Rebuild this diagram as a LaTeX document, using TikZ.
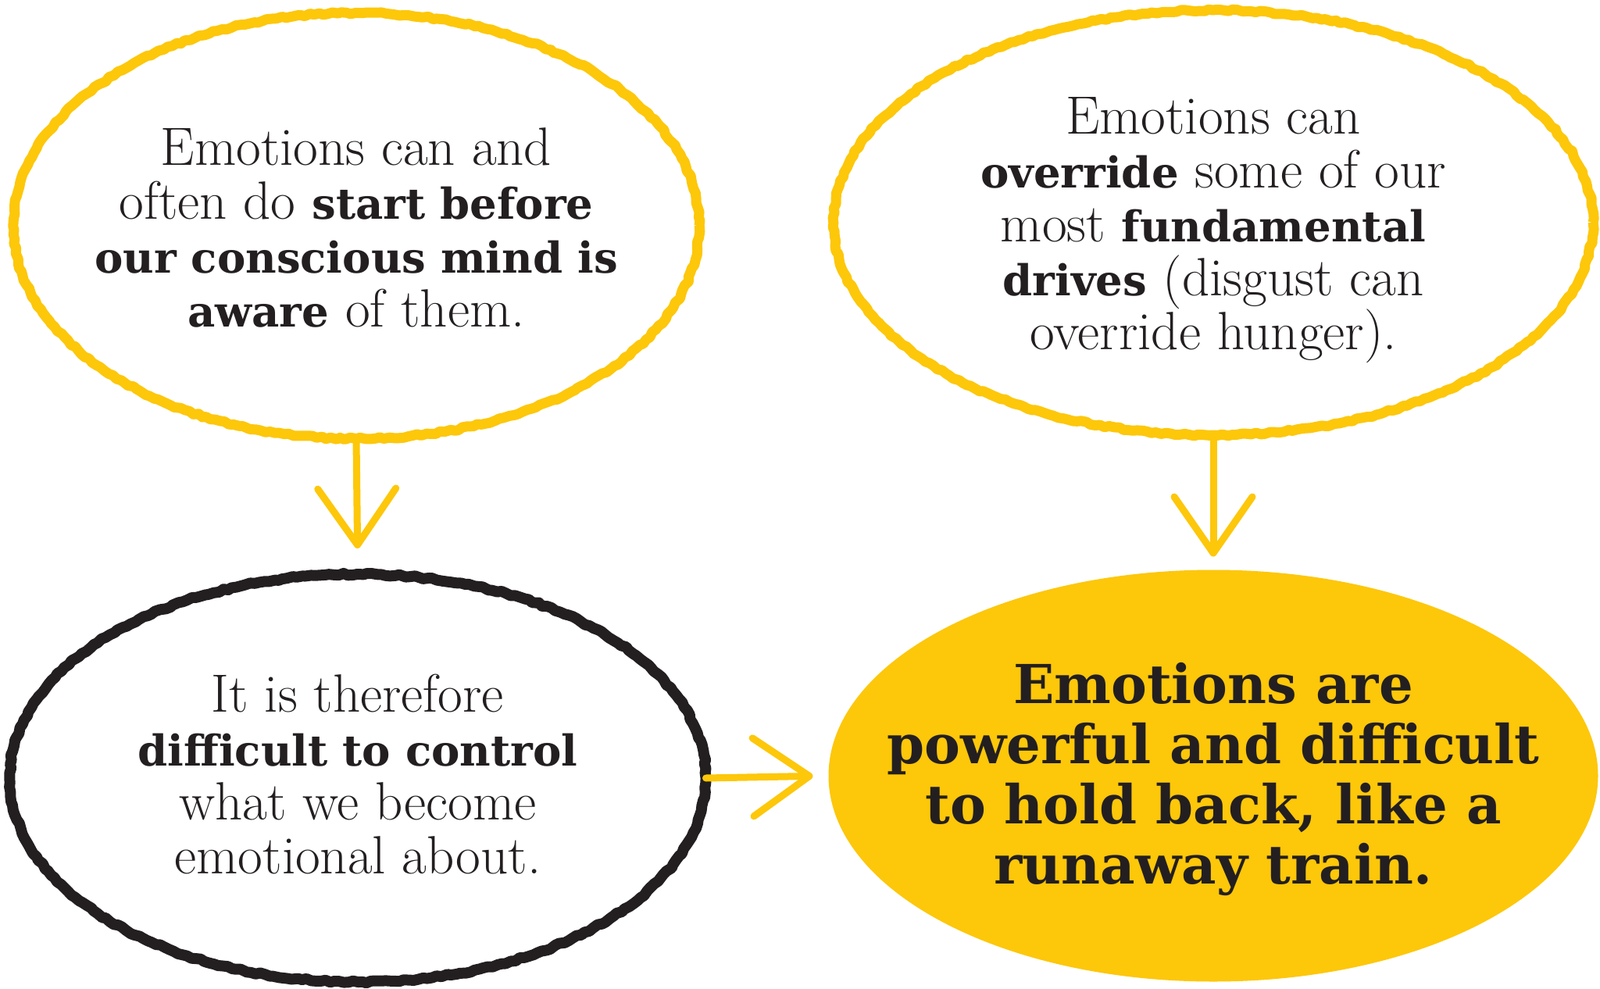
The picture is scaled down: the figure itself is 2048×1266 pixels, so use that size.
\documentclass[tikz,border=0pt]{standalone}
\usepackage{fontspec}
\setmainfont{Latin Modern Roman}
\newfontfamily\slabfont{DejaVu Serif}[Scale=0.79]
\usetikzlibrary{shapes.geometric,arrows.meta,decorations.pathmorphing}
\definecolor{ylw}{HTML}{FDC70A}
\definecolor{ink}{HTML}{231F20}
\newcommand\hb[1]{{\slabfont\bfseries #1}}
\begin{document}
\begin{tikzpicture}[x=1pt,y=-1pt,
  outl/.style={ellipse, draw=#1, line width=13pt, line join=round, inner sep=0pt, outer sep=0pt,
    decorate, decoration={random steps, segment length=6pt, amplitude=1.4pt}},
  solid/.style={ellipse, fill=ylw, draw=none, inner sep=0pt, outer sep=0pt},
  body/.style={align=center, text=ink, inner sep=0pt, font=\fontsize{69}{69}\selectfont},
  big/.style={align=center, text=ink, inner sep=0pt, font=\fontsize{87}{77}\selectfont\slabfont\bfseries},
  conn/.style={draw=ylw, line width=9pt, line cap=round, line join=round,
    -{Straight Barb[length=72pt, width=100pt, line cap=round, line join=round]}}
]
\useasboundingbox (0,0) rectangle (2048,1266);

\node[outl=ylw, minimum width=878pt, minimum height=545pt] (A) at (456,289) {};
\node[outl=ylw, minimum width=972pt, minimum height=544pt] (B) at (1553,285) {};
\node[outl=ink, line width=14pt, minimum width=891pt, minimum height=522pt] (C) at (458,996) {};
\node[solid, minimum width=985pt, minimum height=527pt] (D) at (1553,993) {};

\node[body] (At) at ([yshift=-2pt]A.center) {Emotions can and\\ often do \hb{start before}\\ \hb{our conscious mind is}\\ \hb{aware} of them.};
\node[body] (Bt) at ([yshift=-10pt]B.center) {Emotions can\\ \hb{override} some of our\\ most \hb{fundamental}\\ \hb{drives} (disgust can\\ override hunger).};
\node[body] (Ct) at ([yshift=5pt]C.center) {It is therefore\\ \hb{difficult to control}\\ what we become\\ emotional about.};
\node[big] (Dt) at ([yshift=-5pt]D.center) {Emotions are\\ powerful and difficult\\ to hold back, like a\\ runaway train.};

\draw[conn, shorten >=33pt] (A.south) -- (C.north);
\draw[conn, shorten >=17pt] (B.south) -- (D.north);
\draw[conn, shorten >=20pt] (C.east) -- (D.west);
\end{tikzpicture}
\end{document}
